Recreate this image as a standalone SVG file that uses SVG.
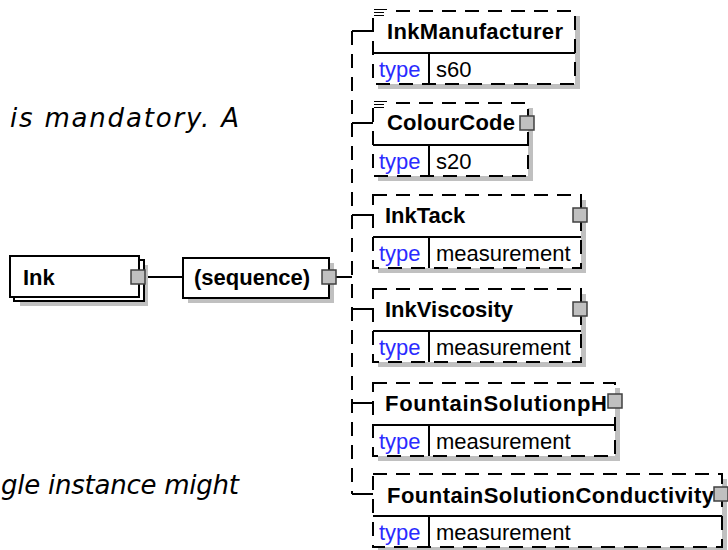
<svg xmlns="http://www.w3.org/2000/svg" width="728" height="550" viewBox="0 0 728 550">
<style>
.shadow{fill:#c0c0c0}
.box{fill:#fff;stroke:#000;stroke-width:2}
.dbox{fill:#fff;stroke:#000;stroke-width:2;stroke-dasharray:14 9}
.line{stroke:#000;stroke-width:2;fill:none}
.dline{stroke:#000;stroke-width:2;fill:none;stroke-dasharray:14 9}
.thin{stroke:#000;stroke-width:1;fill:none}
.sq{fill:#c0c0c0;stroke:#404040;stroke-width:1.5}
.lbl{font-family:"Liberation Sans",Arial,sans-serif;font-weight:bold;font-size:22px;fill:#000}
.type{font-family:"Liberation Sans",Arial,sans-serif;font-size:22px;fill:#2b2bff}
.val{font-family:"Liberation Sans",Arial,sans-serif;font-size:22px;fill:#000}
.note{font-family:"DejaVu Sans",Verdana,sans-serif;font-style:italic;font-size:26px;fill:#000}
</style>
<rect width="728" height="550" fill="#fff"/>
<text class="note" x="10" y="127" textLength="229" lengthAdjust="spacing">is mandatory. A</text>
<text class="note" x="1" y="494" textLength="238" lengthAdjust="spacing">gle instance might</text>

<g id="connectors">
<line class="line" x1="145" y1="277" x2="183" y2="277"/>
<line class="line" x1="336" y1="277" x2="352" y2="277"/>
<line class="dline" x1="352" y1="31" x2="352" y2="494"/>
<line class="line" x1="352" y1="31" x2="373" y2="31"/>
<line class="line" x1="352" y1="123" x2="373" y2="123"/>
<line class="line" x1="352" y1="215" x2="373" y2="215"/>
<line class="line" x1="352" y1="309" x2="373" y2="309"/>
<line class="line" x1="352" y1="403" x2="373" y2="403"/>
<line class="line" x1="352" y1="494" x2="373" y2="494"/>
</g>

<g id="node-ink">
<rect class="shadow" x="20" y="265" width="128" height="41"/>
<rect class="box" x="14" y="260" width="130" height="41"/>
<rect class="box" x="10" y="256" width="129" height="41"/>
<text class="lbl" x="23" y="285">Ink</text>
<rect class="sq" x="131" y="270" width="14" height="14"/>
</g>

<g id="node-sequence">
<rect class="shadow" x="188" y="263" width="146" height="40"/>
<rect class="box" x="183" y="258" width="146" height="40"/>
<text class="lbl" x="194" y="285">(sequence)</text>
<rect class="sq" x="322" y="270" width="14" height="14"/>
</g>

<g id="node-inkmanufacturer">
<rect class="shadow" x="378" y="16" width="202" height="73"/>
<rect class="dbox" x="373" y="11" width="202" height="73"/>
<line class="line" x1="373" y1="53" x2="575" y2="53"/>
<line class="line" x1="429" y1="53" x2="429" y2="84"/>
<rect x="372" y="7" width="16" height="9" fill="#fff"/>
<line class="thin" x1="374" y1="9.5" x2="387" y2="9.5"/>
<line class="thin" x1="374" y1="12.5" x2="384" y2="12.5"/>
<line class="thin" x1="374" y1="15.5" x2="384" y2="15.5"/>
<text class="lbl" x="387" y="39" textLength="176" lengthAdjust="spacing">InkManufacturer</text>
<text class="type" x="379" y="77">type</text>
<text class="val" x="436" y="77">s60</text>
</g>

<g id="node-colourcode">
<rect class="shadow" x="378" y="108" width="155" height="73"/>
<rect class="dbox" x="373" y="103" width="155" height="73"/>
<line class="line" x1="373" y1="145" x2="528" y2="145"/>
<line class="line" x1="429" y1="145" x2="429" y2="176"/>
<rect x="372" y="99" width="16" height="9" fill="#fff"/>
<line class="thin" x1="374" y1="101.5" x2="387" y2="101.5"/>
<line class="thin" x1="374" y1="104.5" x2="384" y2="104.5"/>
<line class="thin" x1="374" y1="107.5" x2="384" y2="107.5"/>
<text class="lbl" x="387" y="130" textLength="128" lengthAdjust="spacing">ColourCode</text>
<text class="type" x="379" y="169">type</text>
<text class="val" x="436" y="169">s20</text>
<rect class="sq" x="520" y="116" width="14" height="14"/>
</g>

<g id="node-inktack">
<rect class="shadow" x="378" y="200" width="208" height="73"/>
<rect class="dbox" x="373" y="195" width="208" height="73"/>
<line class="line" x1="373" y1="237" x2="581" y2="237"/>
<line class="line" x1="429" y1="237" x2="429" y2="268"/>
<text class="lbl" x="385" y="223">InkTack</text>
<text class="type" x="379" y="261">type</text>
<text class="val" x="436" y="261">measurement</text>
<rect class="sq" x="573" y="208" width="14" height="14"/>
</g>

<g id="node-inkviscosity">
<rect class="shadow" x="378" y="294" width="208" height="73"/>
<rect class="dbox" x="373" y="289" width="208" height="73"/>
<line class="line" x1="373" y1="331" x2="581" y2="331"/>
<line class="line" x1="429" y1="331" x2="429" y2="362"/>
<text class="lbl" x="385" y="317">InkViscosity</text>
<text class="type" x="379" y="355">type</text>
<text class="val" x="436" y="355">measurement</text>
<rect class="sq" x="573" y="302" width="14" height="14"/>
</g>

<g id="node-fountainsolutionph">
<rect class="shadow" x="378" y="388" width="242" height="73"/>
<rect class="dbox" x="373" y="383" width="242" height="73"/>
<line class="line" x1="373" y1="425" x2="615" y2="425"/>
<line class="line" x1="429" y1="425" x2="429" y2="456"/>
<text class="lbl" x="385" y="411" textLength="222" lengthAdjust="spacing">FountainSolutionpH</text>
<text class="type" x="379" y="449">type</text>
<text class="val" x="436" y="449">measurement</text>
<rect class="sq" x="608" y="394" width="14" height="14"/>
</g>

<g id="node-fountainsolutionconductivity">
<rect class="shadow" x="378" y="479" width="349" height="73"/>
<rect class="dbox" x="373" y="474" width="349" height="73"/>
<line class="line" x1="373" y1="516" x2="722" y2="516"/>
<line class="line" x1="429" y1="516" x2="429" y2="547"/>
<text class="lbl" x="387" y="503" textLength="327" lengthAdjust="spacing">FountainSolutionConductivity</text>
<text class="type" x="379" y="540">type</text>
<text class="val" x="436" y="540">measurement</text>
<rect class="sq" x="714" y="487" width="14" height="14"/>
</g>
</svg>
